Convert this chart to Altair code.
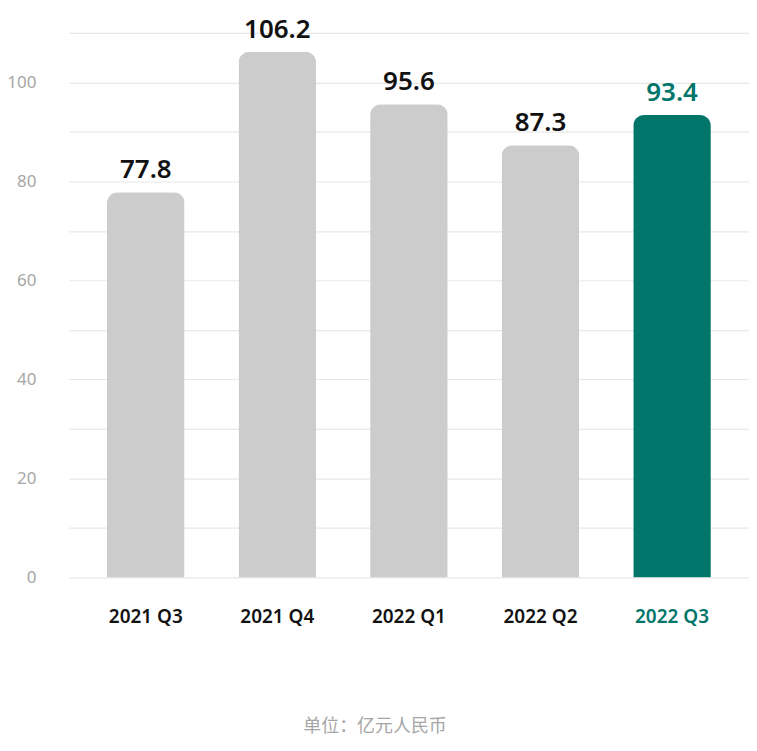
import altair as alt
import pandas as pd

quarters = ["2021 Q3", "2021 Q4", "2022 Q1", "2022 Q2", "2022 Q3"]
values = [77.8, 106.2, 95.6, 87.3, 93.4]
groups = ["past", "past", "past", "past", "current"]
tick_values = list(range(0, 111, 10))
footer = "单位：亿元人民币"

TEAL = "#00756A"
GRAY = "#cccccc"
FONT = "Noto Sans"

df = pd.DataFrame({"quarter": quarters, "value": values, "group": groups})

W, H = 682, 546

x = alt.X(
    "quarter:N",
    sort=quarters,
    title=None,
    scale=alt.Scale(paddingInner=0.41, paddingOuter=0.29),
    axis=alt.Axis(
        labelAngle=0,
        labelFont=FONT,
        labelFontSize=19,
        labelFontWeight=600,
        labelColor={"condition": {"test": "datum.value == '2022 Q3'", "value": TEAL}, "value": "#111111"},
        labelPadding=30,
        domain=False,
        ticks=False,
        grid=False,
    ),
)
y = alt.Y(
    "value:Q",
    title=None,
    scale=alt.Scale(domain=[0, 110], nice=False),
    axis=alt.Axis(
        values=tick_values,
        labelExpr="datum.value % 20 == 0 ? datum.label : ''",
        labelFont=FONT,
        labelFontSize=17,
        labelColor="#a6a6a6",
        labelPadding=33,
        domain=False,
        ticks=False,
        gridColor="#e8e8e8",
        gridWidth=1.2,
    ),
)
color = alt.Color("group:N", scale=alt.Scale(domain=["past", "current"], range=[GRAY, TEAL]), legend=None)

bars = alt.Chart(df).mark_bar(cornerRadiusTopLeft=11, cornerRadiusTopRight=11).encode(x=x, y=y, color=color)

labels = alt.Chart(df).mark_text(
    font=FONT, fontSize=26, fontWeight=600, baseline="alphabetic", dy=-14
).encode(
    x=alt.X("quarter:N", sort=quarters),
    y="value:Q",
    text=alt.Text("value:Q", format=".1f"),
    color=alt.Color("group:N", scale=alt.Scale(domain=["past", "current"], range=["#111111", TEAL]), legend=None),
)

foot = alt.Chart(pd.DataFrame({"t": [footer]})).mark_text(
    font="Noto Sans CJK SC", fontSize=18, color="#a6a6a6", baseline="middle", align="center"
).encode(x=alt.value(307), y=alt.value(H + 150), text="t:N")

chart = alt.layer(bars, labels, foot).resolve_scale(color="independent").properties(
    width=W,
    height=H,
    autosize=alt.AutoSizeParams(type="none"),
    padding={"left": 61, "top": 24, "right": 0, "bottom": 160},
).configure_view(stroke=None)

chart.save("out.html", embed_options={"renderer": "svg", "actions": False})
